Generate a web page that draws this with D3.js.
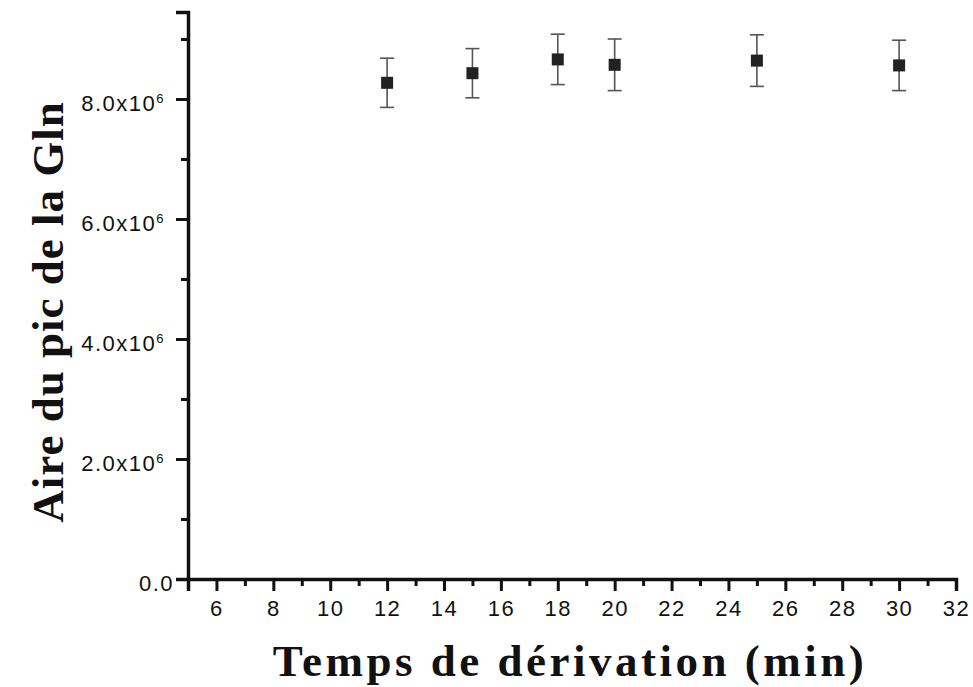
<!DOCTYPE html>
<html>
<head>
<meta charset="utf-8">
<script src="https://cdn.jsdelivr.net/npm/d3@7"></script>
<style>
  body { margin: 0; background: white; }
</style>
</head>
<body>
<div id="chart"></div>
<script>
const width = 973;
const height = 687;

// data
const times = [12, 15, 18, 20, 25, 30];
const areas = [8.27e6, 8.43e6, 8.66e6, 8.57e6, 8.64e6, 8.56e6];
const errors = [0.41e6, 0.41e6, 0.42e6, 0.43e6, 0.43e6, 0.42e6];
const xTicks = [6, 8, 10, 12, 14, 16, 18, 20, 22, 24, 26, 28, 30, 32];
const xMinor = [5, 7, 9, 11, 13, 15, 17, 19, 21, 23, 25, 27, 29, 31];
const yTicks = [0, 2e6, 4e6, 6e6, 8e6];
const yMinor = [1e6, 3e6, 5e6, 7e6, 9e6];

const svg = d3.select("#chart")
    .append("svg")
    .attr("width", width)
    .attr("height", height)
    .style("background-color", "white");

const x = d3.scaleLinear().domain([5, 32]).range([188, 956]);
const y = d3.scaleLinear().domain([0, 9.45e6]).range([579, 12]);

const fmt = d => (d / 1e6).toFixed(1);

// x axis
const gx = svg.append("g")
    .attr("transform", `translate(0, ${y(0)})`)
    .call(d3.axisBottom(x).tickValues(xTicks).tickSize(12).tickPadding(9).tickFormat(d3.format("d")));
gx.append("g").call(d3.axisBottom(x).tickValues(xMinor).tickSize(7).tickFormat(""))
    .select(".domain").remove();

// y axis
const gy = svg.append("g")
    .attr("transform", `translate(${x(5)}, 0)`)
    .call(d3.axisLeft(y).tickValues(yTicks).tickSize(12).tickFormat(""));

// y tick labels with superscript exponent (major ticks only)
gy.selectAll(".tick").each(function (d) {
    const t = d3.select(this).append("text")
        .attr("x", d === 0 ? -14 : -23)
        .attr("dy", "0.5em")
        .attr("text-anchor", "end");
    if (d === 0) {
        t.text("0.0");
    } else {
        t.append("tspan").text(fmt(d) + "x10");
        t.append("tspan").attr("dy", "-0.6em").attr("font-size", "13px").text("6");
    }
});

gy.append("g").call(d3.axisLeft(y).tickValues(yMinor).tickSize(7).tickFormat(""))
    .select(".domain").remove();

svg.selectAll(".domain, .tick line")
    .attr("stroke", "#111")
    .attr("stroke-width", 3);
svg.selectAll(".domain").attr("stroke-width", 3.5);
svg.selectAll(".tick text")
    .attr("font-family", "'Liberation Sans', Arial, sans-serif")
    .attr("font-size", "22px")
    .attr("letter-spacing", "1.5px")
    .attr("fill", "#111");

// error bars
const bars = svg.append("g")
    .selectAll("g")
    .data(times.map((t, i) => ({t: t, v: areas[i], e: errors[i]})))
    .join("g")
    .attr("stroke", "#555")
    .attr("stroke-width", 1.6);
bars.append("line")
    .attr("x1", d => x(d.t)).attr("x2", d => x(d.t))
    .attr("y1", d => y(d.v + d.e)).attr("y2", d => y(d.v - d.e));
bars.append("line")
    .attr("x1", d => x(d.t) - 7).attr("x2", d => x(d.t) + 7)
    .attr("y1", d => y(d.v + d.e)).attr("y2", d => y(d.v + d.e));
bars.append("line")
    .attr("x1", d => x(d.t) - 7).attr("x2", d => x(d.t) + 7)
    .attr("y1", d => y(d.v - d.e)).attr("y2", d => y(d.v - d.e));

// square markers
svg.append("g")
    .selectAll("rect")
    .data(times)
    .join("rect")
    .attr("x", (d, i) => x(d) - 6)
    .attr("y", (d, i) => y(areas[i]) - 6)
    .attr("width", 12)
    .attr("height", 12)
    .attr("fill", "#222");

// axis titles
svg.append("text")
    .attr("x", 570)
    .attr("y", 676)
    .attr("text-anchor", "middle")
    .attr("font-family", "'Liberation Serif', 'Times New Roman', serif")
    .attr("font-weight", "bold")
    .attr("font-size", "45px")
    .attr("letter-spacing", "3.5px")
    .attr("fill", "#111")
    .text("Temps de dérivation (min)");

svg.append("text")
    .attr("transform", "translate(63, 312) rotate(-90)")
    .attr("text-anchor", "middle")
    .attr("font-family", "'Liberation Serif', 'Times New Roman', serif")
    .attr("font-weight", "bold")
    .attr("font-size", "45px")
    .attr("letter-spacing", "1px")
    .attr("fill", "#111")
    .text("Aire du pic de la Gln");
</script>
</body>
</html>
